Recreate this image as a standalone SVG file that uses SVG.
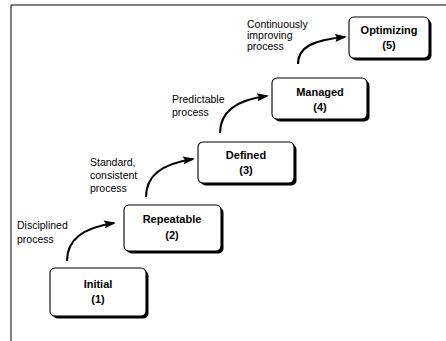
<svg xmlns="http://www.w3.org/2000/svg" width="446" height="341" viewBox="0 0 446 341">
<defs>
<marker id="ah" viewBox="0 0 12 10" refX="10" refY="5" markerWidth="12" markerHeight="10" markerUnits="userSpaceOnUse" orient="auto">
<path d="M0,1 L12,5 L0,9 L2,5 Z" fill="#000"/>
</marker>
</defs>
<style>
.shadow{fill:#000}
.box{fill:#fff;stroke:#000;stroke-width:1.1}
.lbl{font-family:"Liberation Sans",Arial,sans-serif;font-weight:bold;font-size:11px;text-anchor:middle;fill:#000}
.ann{font-family:"Liberation Sans",Arial,sans-serif;font-size:10.5px;fill:#000}
.arc{fill:none;stroke:#000;stroke-width:2.2;marker-end:url(#ah)}
</style>
<rect width="446" height="341" fill="#fff"/>
<path d="M11,341 L11,5 L446,5" fill="none" stroke="#000" stroke-width="1"/>
<g id="connectors">
<path class="arc" d="M67,261 C67,240 82,228 114,223"/>
<path class="arc" d="M146,197 C146,176 161,164 193,159"/>
<path class="arc" d="M220,133 C220,112 235,100 267,96"/>
<path class="arc" d="M298,64 C298,47 313,40 345,37"/>
</g>
<g id="labels">
<text class="ann" x="17" y="229">Disciplined</text>
<text class="ann" x="17" y="243">process</text>
<text class="ann" x="90" y="166">Standard,</text>
<text class="ann" x="90" y="179">consistent</text>
<text class="ann" x="90" y="192">process</text>
<text class="ann" x="172" y="103">Predictable</text>
<text class="ann" x="172" y="116">process</text>
<text class="ann" x="247" y="28">Continuously</text>
<text class="ann" x="247" y="39">improving</text>
<text class="ann" x="247" y="50">process</text>
</g>
<g id="initial">
<rect class="shadow" x="52.5" y="270.5" width="96" height="48" rx="5"/>
<rect class="box" x="50" y="268" width="96" height="48" rx="5"/>
<text class="lbl" x="98" y="288">Initial</text>
<text class="lbl" x="98" y="303">(1)</text>
</g>
<g id="repeatable">
<rect class="shadow" x="126.5" y="207.5" width="97" height="46" rx="5"/>
<rect class="box" x="124" y="205" width="97" height="46" rx="5"/>
<text class="lbl" x="172" y="223">Repeatable</text>
<text class="lbl" x="172" y="239">(2)</text>
</g>
<g id="defined">
<rect class="shadow" x="200.5" y="144.5" width="96" height="41" rx="5"/>
<rect class="box" x="198" y="142" width="96" height="41" rx="5"/>
<text class="lbl" x="246" y="159">Defined</text>
<text class="lbl" x="246" y="174">(3)</text>
</g>
<g id="managed">
<rect class="shadow" x="274.5" y="80.5" width="95" height="41" rx="5"/>
<rect class="box" x="272" y="78" width="95" height="41" rx="5"/>
<text class="lbl" x="320" y="96">Managed</text>
<text class="lbl" x="320" y="111">(4)</text>
</g>
<g id="optimizing">
<rect class="shadow" x="351.5" y="19.5" width="80" height="41" rx="5"/>
<rect class="box" x="349" y="17" width="80" height="41" rx="5"/>
<text class="lbl" x="389" y="34">Optimizing</text>
<text class="lbl" x="389" y="49">(5)</text>
</g>
</svg>
